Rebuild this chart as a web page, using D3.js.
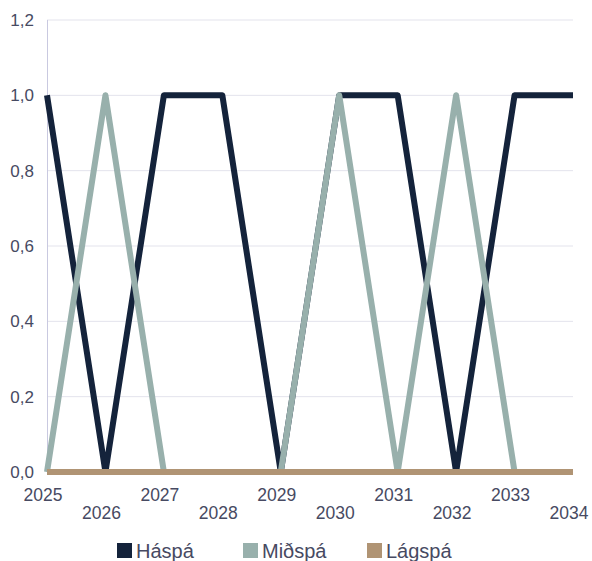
<!DOCTYPE html>
<html><head><meta charset="utf-8">
<script src="https://cdn.jsdelivr.net/npm/d3@7"></script>
<style>body{margin:0;background:#fff}svg{display:block;font-family:"Liberation Sans",Arial,sans-serif}</style>
</head><body><svg id="c" width="592" height="561"></svg>
<script>
const years = ["2025","2026","2027","2028","2029","2030","2031","2032","2033","2034"];
const haspa = [1,0,1,1,0,1,1,0,1,1];
const midspa = [0,1,0,0,0,1,0,1,0,0];
const lagspa = [0,0,0,0,0,0,0,0,0,0];
const yTicks = [0,0.2,0.4,0.6,0.8,1.0,1.2];
const seriesNames = ["Háspá","Miðspá","Lágspá"];
const colors = ["#14233b","#98b0ac","#b09474"];

const svg = d3.select("#c");
const x = d3.scalePoint().domain(years).range([47,573]);
const y = d3.scaleLinear().domain([0,1.2]).range([472,20]);
const fmt = v => d3.format(".1f")(v).replace(".", ",");
const textColor = "#474a62";

svg.append("g").selectAll("line").data(yTicks.filter(t=>t>0)).join("line")
  .attr("x1",47).attr("x2",573).attr("y1",d=>y(d)).attr("y2",d=>y(d))
  .attr("stroke","#e3e3ec").attr("stroke-width",1);
svg.append("line").attr("x1",47.5).attr("x2",47.5).attr("y1",y(1.2)).attr("y2",y(0))
  .attr("stroke","#c9c9e0").attr("stroke-width",1);

svg.append("g").selectAll("text").data(yTicks).join("text")
  .attr("x",34).attr("y",d=>y(d)+6).attr("text-anchor","end")
  .attr("font-size",17).attr("fill",textColor).text(fmt);

svg.append("g").selectAll("text").data(years).join("text")
  .attr("x",d=>x(d)-4).attr("y",(d,i)=>i%2===0?501:519).attr("text-anchor","middle")
  .attr("font-size",17.5).attr("fill",textColor).text(d=>d);

const line = d3.line().x((d,i)=>x(years[i])).y(d=>y(d));
[haspa,midspa,lagspa].forEach((s,k)=>{
  svg.append("path").datum(s).attr("d",line).attr("fill","none")
    .attr("stroke",colors[k]).attr("stroke-width",6)
    .attr("stroke-linejoin","round").attr("stroke-linecap","butt");
});

const legX = [117,243,367];
const lg = svg.append("g");
seriesNames.forEach((n,i)=>{
  lg.append("rect").attr("x",legX[i]).attr("y",543).attr("width",15).attr("height",15).attr("fill",colors[i]);
  lg.append("text").attr("x",legX[i]+19).attr("y",558).attr("font-size",20).attr("fill",textColor).text(n);
});
</script></body></html>
